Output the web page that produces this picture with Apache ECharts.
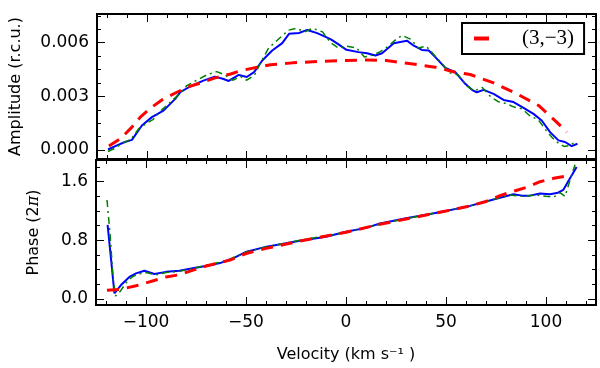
<!DOCTYPE html>
<html>
<head>
<meta charset="utf-8">
<script src="https://cdn.jsdelivr.net/npm/echarts@6/dist/echarts.min.js"></script>
<style>
  html, body { margin: 0; padding: 0; background: #fff; }
  #chart { width: 600px; height: 368px; }
</style>
</head>
<body>
<div id="chart"></div>
<script>
// velocity axis
const velTicks = [-100, -50, 0, 50, 100]
const velMinor = [-120, -110, -90, -80, -70, -60, -40, -30, -20, -10, 10, 20, 30, 40, 60, 70, 80, 90, 110, 120]
const ampTicks = [0, 0.003, 0.006]
const ampMinor = [0.00075, 0.0015, 0.00225, 0.00375, 0.0045, 0.00525, 0.00675, 0.0075]
const phaseTicks = [0, 0.8, 1.6]
const phaseMinor = [0.2, 0.4, 0.6, 1.0, 1.2, 1.4, 1.8]

// amplitude, observed (blue)
const ampObsVel = [-119.5, -115, -111, -107.5, -102.5, -97.5, -91.7, -85.8, -83.3, -78.3, -71.7, -66, -62, -59, -54, -50, -46.3, -42.2, -37.2, -32.2, -28.8, -23.8, -19.7, -14.7, -8, -3.8, 0, 6, 10.3, 14.5, 17.8, 23.7, 30.3, 33.7, 37.8, 41.2, 44.5, 49.5, 54.5, 59.5, 63, 65.3, 68.7, 73.7, 78.7, 83.7, 88.7, 93.7, 97.8, 102, 106.2, 109.5, 112.8, 115.7]
const ampObs = [0.00003, 0.00026, 0.00045, 0.00057, 0.00137, 0.00184, 0.0022, 0.00286, 0.00323, 0.00355, 0.00388, 0.0041, 0.00398, 0.00386, 0.0042, 0.00408, 0.00435, 0.005, 0.00556, 0.00597, 0.00649, 0.00654, 0.00671, 0.00653, 0.0062, 0.00589, 0.0056, 0.00547, 0.00541, 0.00528, 0.00541, 0.00597, 0.00611, 0.00583, 0.00559, 0.00556, 0.00519, 0.00459, 0.00435, 0.0037, 0.00335, 0.00323, 0.00336, 0.00314, 0.0028, 0.00268, 0.00236, 0.00202, 0.00165, 0.001, 0.00054, 0.00045, 0.00022, 0.00035]

// amplitude, second curve (green dash-dot)
const ampAltVel = [-119.5, -116, -112, -108, -104, -100, -97, -92, -88, -84, -80, -75, -70, -65, -61, -57, -53, -50, -46, -43, -39, -34, -29, -25, -21, -17, -12, -8, -4, 0, 5, 9, 13, 17, 21, 25, 28, 32, 36, 40, 44, 48, 52, 56, 60, 64, 68, 72, 76, 80, 84, 88, 92, 96, 100, 103, 106, 109, 112, 115]
const ampAlt = [-0.00008, 0.0001, 0.0004, 0.0006, 0.0012, 0.0015, 0.0017, 0.0023, 0.0027, 0.0031, 0.0036, 0.0039, 0.0042, 0.00438, 0.0042, 0.0039, 0.0041, 0.0039, 0.0042, 0.0049, 0.0057, 0.0062, 0.0067, 0.0068, 0.0066, 0.0068, 0.0066, 0.006, 0.0057, 0.0058, 0.0057, 0.0052, 0.0053, 0.0055, 0.0058, 0.0062, 0.0064, 0.0062, 0.0057, 0.0058, 0.0053, 0.0048, 0.0043, 0.0042, 0.0036, 0.0033, 0.0035, 0.003, 0.0027, 0.0026, 0.0024, 0.0023, 0.0019, 0.0017, 0.0011, 0.0007, 0.0004, 0.0002, 0.00025, 0.0005]

// amplitude, model (3,-3) (red dashed)
const ampModelVel = [-119, -113.3, -107.5, -103.3, -97.5, -92.5, -85, -80, -71.7, -65.8, -58, -53, -43, -38, -27, -13, 0, 10, 20, 30.3, 44.5, 54.5, 62, 73.7, 85.3, 96.2, 105.3, 110.3]
const ampModel = [0.00022, 0.00063, 0.00128, 0.00184, 0.0024, 0.0028, 0.00323, 0.0035, 0.0038, 0.00403, 0.00425, 0.00444, 0.00466, 0.00477, 0.00487, 0.00496, 0.005, 0.00503, 0.005, 0.00485, 0.00463, 0.00435, 0.00422, 0.00375, 0.00314, 0.00249, 0.00156, 0.001]

// phase, observed (blue)
const phObsVel = [-119.2, -117.5, -115.8, -112.5, -108.3, -105, -100.8, -95.8, -90, -83.3, -76.7, -70, -63, -56, -49.7, -39.7, -30, -23, -10, 0, 10, 17, 30, 40, 50, 62, 70, 77, 83.7, 88, 92, 97, 102, 106, 108.7, 111, 115.3]
const phObs = [1.01, 0.55, 0.078, 0.19, 0.3, 0.35, 0.386, 0.34, 0.37, 0.386, 0.42, 0.45, 0.49, 0.56, 0.645, 0.714, 0.76, 0.795, 0.85, 0.918, 0.97, 1.03, 1.1, 1.15, 1.2, 1.27, 1.33, 1.38, 1.43, 1.41, 1.41, 1.44, 1.43, 1.45, 1.49, 1.6, 1.8]

// phase, second curve (green dash-dot)
const phAltVel = [-119.5, -118, -116.5, -115.3, -113, -110, -107, -104, -100, -95, -90, -83, -76, -70, -60, -50, -40, -23, 0, 20, 40, 50, 62, 77, 82, 88, 95, 100, 104, 107, 109.5, 112, 114.5]
const phAlt = [1.35, 0.9, 0.3, 0.04, 0.1, 0.22, 0.3, 0.34, 0.36, 0.33, 0.36, 0.38, 0.42, 0.46, 0.52, 0.64, 0.71, 0.8, 0.91, 1.04, 1.15, 1.2, 1.27, 1.38, 1.42, 1.4, 1.42, 1.4, 1.39, 1.45, 1.4, 1.62, 1.83]

// phase, model (red dashed)
const phModelVel = [-119.5, -113, -105, -100, -90, -83.5, -70, -58, -50, -40, -23, 0, 17, 30, 50, 62, 70, 77, 85, 90, 97, 104.5, 110.5]
const phModel = [0.12, 0.13, 0.18, 0.22, 0.3, 0.33, 0.45, 0.53, 0.62, 0.69, 0.79, 0.91, 1.02, 1.09, 1.2, 1.27, 1.33, 1.41, 1.48, 1.52, 1.6, 1.65, 1.68]

const modelName = '(3,\u22123)'

function pairs (xs, ys) {
  return xs.map((x, i) => [x, ys[i]])
}
function minus (s) {
  return s.replace('-', '\u2212')
}

const labelFont = { color: '#000', fontSize: 17, fontFamily: 'DejaVu Sans' }

// one axis = one side of the box, with either major or minor ticks
function xAx (grid, pos, ticks, len, labels) {
  const ax = {
    type: 'value',
    gridIndex: grid,
    position: pos,
    min: -125,
    max: 125,
    axisLine: { show: false, onZero: false },
    splitLine: { show: false },
    axisTick: { show: true, inside: true, length: len, customValues: ticks, lineStyle: { color: '#000', width: 1 } },
    axisLabel: { show: false }
  }
  if (labels) {
    ax.axisLabel = Object.assign({ show: true, customValues: ticks, margin: 9, formatter: v => minus(String(v)) }, labelFont)
  }
  return ax
}
function yAx (grid, pos, min, max, ticks, len, fmt) {
  const ax = {
    type: 'value',
    gridIndex: grid,
    position: pos,
    min: min,
    max: max,
    axisLine: { show: false, onZero: false },
    splitLine: { show: false },
    axisTick: { show: true, inside: true, length: len, customValues: ticks, lineStyle: { color: '#000', width: 1 } },
    axisLabel: { show: false }
  }
  if (fmt) {
    ax.axisLabel = Object.assign({ show: true, customValues: ticks, margin: 8, formatter: fmt }, labelFont)
  }
  return ax
}

const xAxes = [
  xAx(0, 'bottom', velTicks, 8, false),
  xAx(0, 'top', velTicks, 8, false),
  xAx(0, 'bottom', velMinor, 4, false),
  xAx(0, 'top', velMinor, 4, false),
  xAx(1, 'bottom', velTicks, 8, true),
  xAx(1, 'top', velTicks, 8, false),
  xAx(1, 'bottom', velMinor, 4, false),
  xAx(1, 'top', velMinor, 4, false)
]
xAxes[4].name = 'Velocity (km s\u207B\u00B9 )'
xAxes[4].nameLocation = 'middle'
xAxes[4].nameGap = 42
xAxes[4].nameTextStyle = { color: '#000', fontSize: 16, fontFamily: 'DejaVu Sans' }

const yAxes = [
  yAx(0, 'left', -0.0005, 0.0076, ampTicks, 8, v => v.toFixed(3)),
  yAx(0, 'right', -0.0005, 0.0076, ampTicks, 8, null),
  yAx(0, 'left', -0.0005, 0.0076, ampMinor, 4, null),
  yAx(0, 'right', -0.0005, 0.0076, ampMinor, 4, null),
  yAx(1, 'left', -0.082, 1.896, phaseTicks, 8, v => v.toFixed(1)),
  yAx(1, 'right', -0.082, 1.896, phaseTicks, 8, null),
  yAx(1, 'left', -0.082, 1.896, phaseMinor, 4, null),
  yAx(1, 'right', -0.082, 1.896, phaseMinor, 4, null)
]
yAxes[0].name = 'Amplitude (r.c.u.)'
yAxes[0].nameLocation = 'middle'
yAxes[0].nameGap = 73
yAxes[0].nameTextStyle = { color: '#000', fontSize: 16, fontFamily: 'DejaVu Sans' }
yAxes[4].name = '{a|Phase (2}{b|\u03C0}{a|)}'
yAxes[4].nameLocation = 'middle'
yAxes[4].nameGap = 54
yAxes[4].nameTextStyle = {
  rich: {
    a: { color: '#000', fontSize: 16, fontFamily: 'DejaVu Sans' },
    b: { color: '#000', fontSize: 16, fontFamily: 'DejaVu Serif', fontStyle: 'italic' }
  }
}

function line (name, grid, data, color, width, dash) {
  return {
    name: name,
    type: 'line',
    xAxisIndex: grid * 4,
    yAxisIndex: grid * 4,
    data: data,
    showSymbol: false,
    symbol: 'none',
    silent: true,
    animation: false,
    legendIcon: 'rect',
    lineStyle: { color: color, width: width, type: dash, cap: 'butt' },
    itemStyle: { color: color }
  }
}

const option = {
  animation: false,
  backgroundColor: '#fff',
  grid: [
    { left: 96, right: 4, top: 14, height: 145, show: true, borderColor: '#000', borderWidth: 2, backgroundColor: 'transparent' },
    { left: 96, right: 4, top: 160, height: 145, show: true, borderColor: '#000', borderWidth: 2, backgroundColor: 'transparent' }
  ],
  xAxis: xAxes,
  yAxis: yAxes,
  legend: {
    data: [modelName],
    left: 462,
    top: 23,
    padding: [5, 10, 5, 12],
    borderColor: '#000',
    borderWidth: 2,
    backgroundColor: '#fff',
    icon: 'rect',
    itemWidth: 15,
    itemHeight: 4,
    itemStyle: { color: '#ff0000' },
    textStyle: { color: '#000', fontSize: 21, fontFamily: 'Liberation Serif', padding: [0, 0, 0, 28] }
  },
  series: [
    line('obs-amp', 0, pairs(ampObsVel, ampObs), '#0000ff', 2, 'solid'),
    line('alt-amp', 0, pairs(ampAltVel, ampAlt), '#008000', 1.5, [7, 4, 2, 4]),
    line(modelName, 0, pairs(ampModelVel, ampModel), '#ff0000', 3, [12, 8]),
    line('obs-phase', 1, pairs(phObsVel, phObs), '#0000ff', 2, 'solid'),
    line('alt-phase', 1, pairs(phAltVel, phAlt), '#008000', 1.5, [7, 4, 2, 4]),
    line(modelName, 1, pairs(phModelVel, phModel), '#ff0000', 3, [12, 8])
  ]
}

const chart = echarts.init(document.getElementById('chart'))
chart.setOption(option)
</script>
</body>
</html>
